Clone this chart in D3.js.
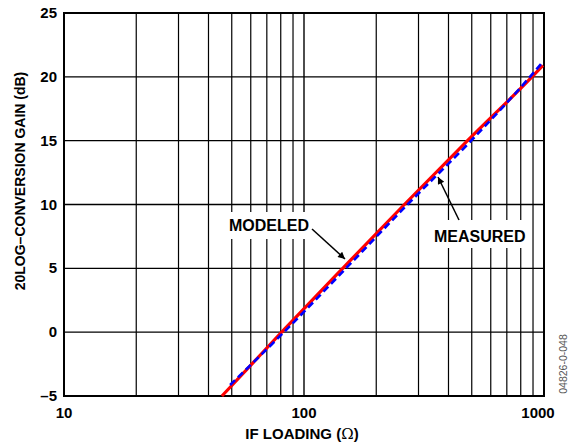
<!DOCTYPE html>
<html><head><meta charset="utf-8">
<script src="https://cdn.jsdelivr.net/npm/d3@7"></script>
<style>
body{margin:0;background:#fff;}
text{font-family:"Liberation Sans",Arial,sans-serif;}
</style></head>
<body><svg id="c" width="569" height="447"></svg>
<script>
// Data
const modeledLoad = [45.5, 80.7, 145, 262, 480, 891, 990];
const modeledGain = [-5, 0, 5, 10, 15, 20, 20.9];
const measuredLoad = [49.2, 82.5, 149.6, 270, 497, 874, 971];
const measuredGain = [-4.14, 0, 5, 10, 15, 20, 21.0];
const xTicks = [10, 100, 1000];
const xMinor = [20,30,40,50,60,70,80,90,200,300,400,500,600,700,800,900];
const yTicks = [-5, 0, 5, 10, 15, 20, 25];

const svg = d3.select("#c");
const L = 64, R = 544, T = 13, B = 396;
const x = d3.scaleLog().domain([10, 1000]).range([L, R]);
const y = d3.scaleLinear().domain([-5, 25]).range([B, T]);

const g = svg.append("g");
// grid
g.selectAll(".vmin").data(xMinor).join("line")
  .attr("x1", d => x(d)).attr("x2", d => x(d)).attr("y1", T).attr("y2", B)
  .attr("stroke", "#000").attr("stroke-width", 1.2);
g.selectAll(".vmaj").data(xTicks).join("line")
  .attr("x1", d => x(d)).attr("x2", d => x(d)).attr("y1", T).attr("y2", B)
  .attr("stroke", "#000").attr("stroke-width", 1.4);
g.selectAll(".h").data(yTicks).join("line")
  .attr("x1", L).attr("x2", R).attr("y1", d => y(d)).attr("y2", d => y(d))
  .attr("stroke", "#000").attr("stroke-width", 1.4);

// label background boxes (cover gridlines)
g.append("rect").attr("x", 224).attr("y", 212).attr("width", 106).attr("height", 27).attr("fill", "#fff");
g.append("rect").attr("x", 428).attr("y", 220).attr("width", 103).attr("height", 28).attr("fill", "#fff");

// border
g.append("rect").attr("x", L).attr("y", T).attr("width", R - L).attr("height", B - T)
  .attr("fill", "none").attr("stroke", "#000").attr("stroke-width", 2);

// lines
const line = d3.line().x(d => x(d[0])).y(d => y(d[1])).curve(d3.curveMonotoneX);
g.append("path").datum(d3.zip(modeledLoad, modeledGain)).attr("d", line)
  .attr("fill", "none").attr("stroke", "#ff0000").attr("stroke-width", 3.2);
g.append("path").datum(d3.zip(measuredLoad, measuredGain)).attr("d", line)
  .attr("fill", "none").attr("stroke", "#0000ff").attr("stroke-width", 2.6)
  .attr("stroke-dasharray", "7,4");

// axes ticks labels
g.selectAll(".yt").data(yTicks).join("text")
  .attr("x", 57).attr("y", d => y(d) + 5).attr("text-anchor", "end")
  .attr("font-size", 15).attr("font-weight", "bold")
  .text(d => d < 0 ? "\u2013" + Math.abs(d) : d);
g.selectAll(".xt").data(xTicks).join("text")
  .attr("x", d => d === 1000 ? x(d) - 6 : x(d)).attr("y", 418).attr("text-anchor", "middle")
  .attr("font-size", 15).attr("font-weight", "bold")
  .text(d => d);

// axis titles
const xt = g.append("text").attr("x", 302).attr("y", 439).attr("text-anchor", "middle")
  .attr("font-size", 15).attr("font-weight", "bold");
xt.append("tspan").text("IF LOADING (");
xt.append("tspan").attr("font-weight", "normal").attr("font-family", "'DejaVu Serif',serif").text("\u03A9");
xt.append("tspan").text(")");
g.append("text").attr("transform", "translate(25,181) rotate(-90)").attr("text-anchor", "middle")
  .attr("font-size", 14).attr("font-weight", "bold").text("20LOG\u2013CONVERSION GAIN (dB)");

// annotations
svg.append("defs").append("marker").attr("id", "ah").attr("viewBox", "0 0 10 10")
  .attr("refX", 10).attr("refY", 5).attr("markerWidth", 10).attr("markerHeight", 7)
  .attr("markerUnits", "userSpaceOnUse").attr("orient", "auto")
  .append("path").attr("d", "M0,0L10,5L0,10Z").attr("fill", "#000");
g.append("text").attr("x", 229).attr("y", 231).attr("font-size", 16).attr("font-weight", "bold").text("MODELED");
g.append("line").attr("x1", 312).attr("y1", 229).attr("x2", 345).attr("y2", 259)
  .attr("stroke", "#000").attr("stroke-width", 1.5).attr("marker-end", "url(#ah)");
g.append("text").attr("x", 434).attr("y", 242).attr("font-size", 16).attr("font-weight", "bold").text("MEASURED");
g.append("line").attr("x1", 459).attr("y1", 220).attr("x2", 438).attr("y2", 177)
  .attr("stroke", "#000").attr("stroke-width", 1.5).attr("marker-end", "url(#ah)");

// side code
svg.append("text").attr("transform", "translate(567,364) rotate(-90)").attr("text-anchor", "middle")
  .attr("font-size", 10.5).attr("fill", "#555").text("04826-0-048");
</script></body></html>
